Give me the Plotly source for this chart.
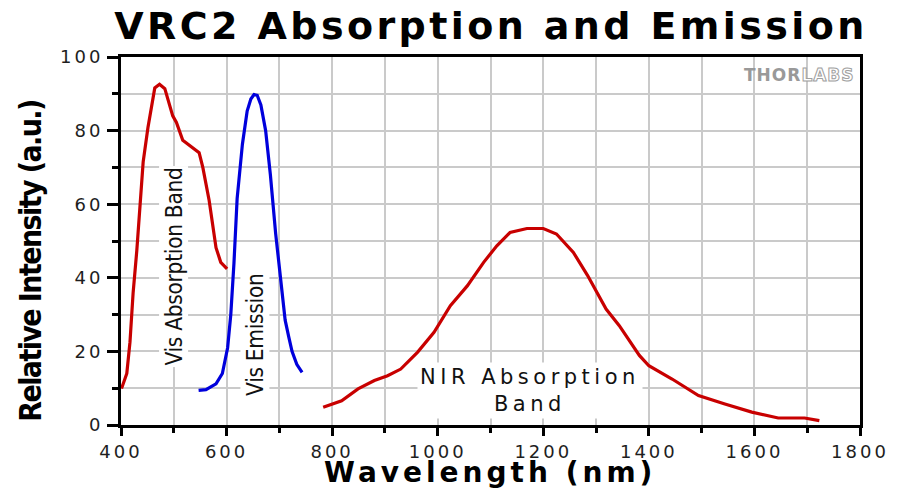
import plotly.graph_objects as go

# Visible absorption band of VRC2 (wavelength in nm, relative intensity)
vis_abs_nm = [401, 411, 417, 423, 430, 442, 451, 464, 473, 483, 498, 505, 517, 535, 548, 555, 567, 580, 589, 601]
vis_abs = [9.9, 14.0, 22.5, 36.0, 47.5, 71.5, 80.8, 91.6, 92.6, 91.4, 84.0, 82.2, 77.4, 75.5, 74.0, 70.0, 61.0, 48.2, 44.2, 42.4]

# Visible emission
vis_em_nm = [547, 561, 580, 592, 602, 608, 614, 620, 630, 639, 646, 652, 658, 665, 674, 683, 693, 705, 711, 718, 724, 733, 743]
vis_em = [9.4, 9.6, 11.2, 14.0, 21.0, 30.0, 44.0, 61.5, 76.3, 85.3, 88.6, 89.8, 89.6, 87.0, 80.0, 68.0, 52.0, 36.0, 28.5, 23.8, 20.0, 16.5, 14.3]

# Near-infrared absorption band
nir_abs_nm = [783, 818, 849, 880, 905, 930, 962, 993, 1024, 1056, 1087, 1112, 1137, 1169, 1200, 1225, 1257, 1284,
              1319, 1344, 1382, 1400, 1444, 1494, 1544, 1595, 1645, 1695, 1723]
nir_abs = [4.8, 6.6, 9.8, 12.1, 13.4, 15.2, 19.8, 25.2, 32.4, 37.8, 44.2, 48.7, 52.3, 53.4, 53.4, 51.9, 46.9, 40.6,
           31.5, 27.0, 18.9, 16.1, 12.5, 8.0, 5.7, 3.5, 1.9, 1.9, 1.2]

x_ticks = [400, 600, 800, 1000, 1200, 1400, 1600, 1800]
y_ticks = [0, 20, 40, 60, 80, 100]

RED = "#c80000"
BLUE = "#0000dc"
GRID = "#cacaca"
NARROW = "Liberation Sans Narrow, DejaVu Sans Condensed, Liberation Sans, sans-serif"

W, H = 901, 488
L, R, T, B = 121, 866, 57, 425  # plot area edges in pixels


def px(x):
    return (x - L) / (R - L)


def py(y):
    return (B - y) / (B - T)


def spaced(text, sp, extra=""):
    return f'<span style="letter-spacing:{sp}px{extra}">{text}</span>'


fig = go.Figure()
line_w = 3.2
fig.add_trace(go.Scatter(x=vis_abs_nm, y=vis_abs, mode="lines", line=dict(color=RED, width=line_w),
                         name="Vis Absorption Band"))
fig.add_trace(go.Scatter(x=vis_em_nm, y=vis_em, mode="lines", line=dict(color=BLUE, width=line_w),
                         name="Vis Emission"))
fig.add_trace(go.Scatter(x=nir_abs_nm, y=nir_abs, mode="lines", line=dict(color=RED, width=line_w),
                         name="NIR Absorption Band"))

tick_font = dict(family="DejaVu Sans", size=18, color="#1e1e1e")

fig.update_xaxes(
    range=[400, 1800], tickmode="array", tickvals=x_ticks,
    ticktext=[spaced(str(v), 3) for v in x_ticks],
    showgrid=True, gridcolor=GRID, gridwidth=1.5,
    showline=True, linecolor="black", linewidth=3, mirror=True,
    ticks="outside", ticklen=8, tickwidth=2.5, tickcolor="black",
    minor=dict(dtick=100, tick0=400, ticks="outside", ticklen=5, tickwidth=2.5, tickcolor="black",
               showgrid=True, gridcolor=GRID, gridwidth=1.5),
    tickfont=tick_font, zeroline=False,
)
fig.update_yaxes(
    range=[0, 100], tickmode="array", tickvals=y_ticks,
    ticktext=[spaced(str(v), 3) for v in y_ticks],
    showgrid=True, gridcolor=GRID, gridwidth=1.5,
    showline=True, linecolor="black", linewidth=3, mirror=True,
    ticks="outside", ticklen=11, tickwidth=2.5, tickcolor="black",
    minor=dict(dtick=10, tick0=0, ticks="outside", ticklen=6, tickwidth=2.5, tickcolor="black",
               showgrid=True, gridcolor=GRID, gridwidth=1.5),
    tickfont=tick_font, zeroline=False,
)

annotations = [
    # axis titles
    dict(text=spaced("Wavelength (nm)", 4), x=px(493), y=py(472), xref="paper", yref="paper",
         xanchor="center", yanchor="middle", showarrow=False,
         font=dict(family="DejaVu Sans", size=28, color="black", weight="bold")),
    dict(text=spaced("Relative Intensity (a.u.)", -1.6, ";font-stretch:condensed"), x=px(29), y=py(261),
         xref="paper", yref="paper",
         xanchor="center", yanchor="middle", textangle=-90, showarrow=False,
         font=dict(family=NARROW, size=30, color="black", weight="bold")),
    # band labels
    dict(text=spaced("Vis Absorption Band", -0.3, ";font-stretch:condensed"), x=px(174), y=py(267),
         xref="paper", yref="paper",
         xanchor="center", yanchor="middle", textangle=-90, showarrow=False, bgcolor="white",
         font=dict(family=NARROW, size=22.5, color="#111")),
    dict(text=spaced("Vis Emission", -0.3, ";font-stretch:condensed"), x=px(256), y=py(335),
         xref="paper", yref="paper",
         xanchor="center", yanchor="middle", textangle=-90, showarrow=False, bgcolor="white",
         font=dict(family=NARROW, size=22.5, color="#111")),
    dict(text=spaced("NIR Absorption", 4.5) + "<br>" + spaced("Band", 4.5), x=px(533), y=py(390),
         xref="paper", yref="paper", xanchor="center", yanchor="middle", showarrow=False,
         bgcolor="white", borderpad=2,
         font=dict(family="DejaVu Sans", size=21, color="#111")),
    # logo
    dict(text='<span style="letter-spacing:1px">THOR</span>'
              '<span style="letter-spacing:1px;fill:#ffffff;stroke:#a0a0a0;stroke-width:1px">LABS</span>',
         x=px(805), y=py(75), xref="paper", yref="paper", xanchor="center", yanchor="middle",
         showarrow=False, font=dict(family="DejaVu Sans", size=17, color="#999999", weight="bold")),
]

fig.update_layout(
    width=W, height=H, autosize=False,
    margin=dict(l=L, r=W - R, t=T, b=H - B),
    paper_bgcolor="white", plot_bgcolor="white",
    showlegend=False,
    title=dict(text=spaced("VRC2 Absorption and Emission", 3.4), x=px(494), xref="paper",
               xanchor="center", y=1 - 26 / H, yref="container", yanchor="middle",
               font=dict(family="DejaVu Sans", size=38, color="black", weight="bold")),
    annotations=annotations,
)

fig.write_html("out.html")
